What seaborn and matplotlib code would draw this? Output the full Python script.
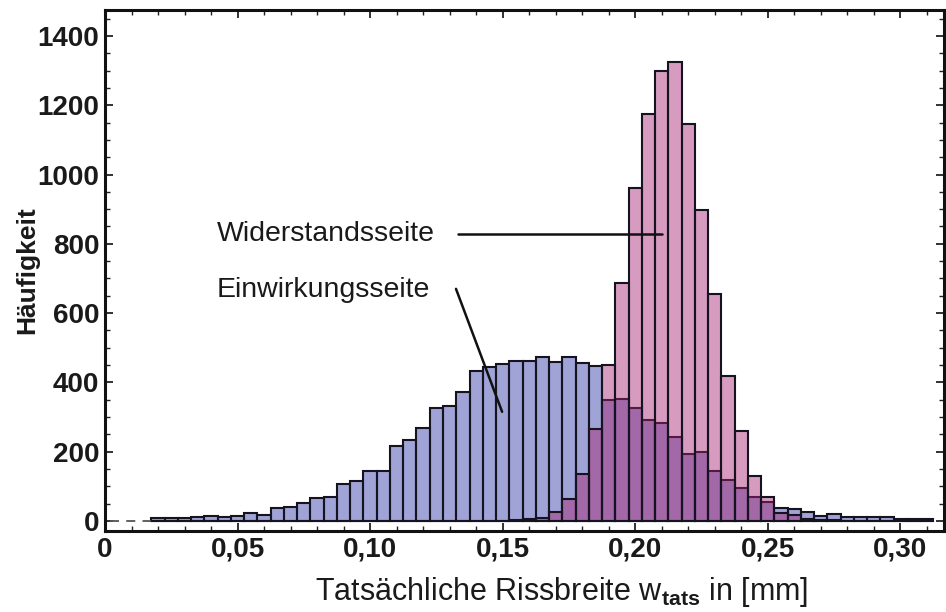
import numpy as np
import pandas as pd
import matplotlib
matplotlib.use("Agg")
import matplotlib.pyplot as plt
from matplotlib.ticker import MultipleLocator, FuncFormatter
import seaborn as sns

# Histogram bins (crack width in mm)
bin_start = 0.0175
bin_width = 0.005

# Frequencies per bin, action side (Einwirkungsseite)
einwirkung = [8, 8, 8, 11, 15, 11, 14, 24, 16, 37,
              39, 53, 66, 69, 108, 115, 145, 145, 216, 233,
              268, 326, 333, 372, 432, 445, 452, 463, 463, 473,
              460, 473, 456, 447, 348, 352, 327, 292, 284, 243,
              194, 200, 144, 118, 94, 68, 56, 38, 35, 27,
              13, 19, 10, 10, 10, 10, 5, 5, 7]

# Frequencies per bin, resistance side (Widerstandsseite)
widerstand = [0, 0, 0, 0, 0, 0, 0, 0, 0, 0,
              0, 0, 0, 0, 0, 0, 0, 0, 0, 0,
              0, 0, 0, 0, 0, 0, 0, 2, 5, 8,
              27, 64, 135, 266, 450, 688, 961, 1176, 1299, 1325,
              1147, 899, 654, 417, 261, 129, 70, 24, 17, 6,
              3, 2, 0, 0, 0, 0, 0, 0, 0]

x_ticks = [0, 0.05, 0.10, 0.15, 0.20, 0.25, 0.30]
y_ticks = [0, 200, 400, 600, 800, 1000, 1200, 1400]

n_bins = len(einwirkung)
edges = bin_start + bin_width * np.arange(n_bins + 1)
centers = edges[:-1] + bin_width / 2
df = pd.DataFrame({"w": centers, "E": einwirkung, "W": widerstand})
bin_range = (float(edges[0]), float(edges[-1]))

sns.set_theme(style="ticks")
plt.rcParams["font.family"] = ["Liberation Sans", "DejaVu Sans"]
plt.rcParams["font.weight"] = "bold"
plt.rcParams["mathtext.fontset"] = "custom"
plt.rcParams["mathtext.rm"] = "Liberation Sans"
plt.rcParams["mathtext.bf"] = "Liberation Sans:bold"
plt.rcParams["mathtext.it"] = "Liberation Sans:italic"

fig = plt.figure(figsize=(9.46, 6.12), dpi=100)
ax = fig.add_axes([0.111, 0.1324, 0.8869, 0.8513])

alpha = 0.45
edge_col = "#15131f"
blue = (44 / 255, 51 / 255, 166 / 255, alpha)
pink = (166 / 255, 33 / 255, 111 / 255, alpha)

sns.histplot(data=df, x="w", weights="E", binwidth=bin_width,
             binrange=bin_range, ax=ax,
             facecolor=blue, edgecolor=edge_col, linewidth=1.5)
sns.histplot(data=df, x="w", weights="W", binwidth=bin_width,
             binrange=bin_range, ax=ax,
             facecolor=pink, edgecolor=edge_col, linewidth=1.5)

# dashed baseline left of the first bin
ax.plot([0.002, edges[0]], [0, 0], color="#555555", lw=1.3, ls=(0, (5, 4)))

ax.set_xlim(0, 0.3165)
ax.set_ylim(-29, 1475)

ax.set_xticks(x_ticks)
ax.set_yticks(y_ticks)
ax.xaxis.set_minor_locator(MultipleLocator(0.01))
ax.yaxis.set_minor_locator(MultipleLocator(50))
ax.xaxis.set_major_formatter(FuncFormatter(
    lambda v, p: "0" if abs(v) < 1e-9 else f"{v:.2f}".replace(".", ",")))
ax.yaxis.set_major_formatter(FuncFormatter(lambda v, p: f"{int(round(v))}"))

ax.tick_params(which="both", direction="in", top=True, right=True,
               color="#222222", labelsize=20, labelcolor="#1a1a1a")
ax.tick_params(which="major", length=6, width=1.3, pad=4)
ax.tick_params(which="minor", length=3.5, width=1.0)
for s in ax.spines.values():
    s.set_linewidth(2.2)
    s.set_color("#111111")

ax.set_xlabel("")
ax.set_ylabel("")
fig.text(562 / 946, 1 - 600 / 612,
         "Tatsächliche Rissbreite w$_{\\mathbf{tats}}$ in [mm]",
         ha="center", va="baseline", fontsize=22, fontweight="normal",
         color="#1a1a1a")
fig.text(27 / 946, 1 - 270 / 612, "Häufigkeit", rotation=90,
         ha="center", va="center", fontsize=19, fontweight="bold",
         color="#1a1a1a")

# labels with leader lines
ax.text(0.0422, 828, "Widerstandsseite", ha="left", va="center",
        fontsize=20.5, fontweight="normal", color="#1a1a1a")
ax.plot([0.1332, 0.2101], [828, 828], color="#111111", lw=1.8)
ax.text(0.0422, 667, "Einwirkungsseite", ha="left", va="center",
        fontsize=20.5, fontweight="normal", color="#1a1a1a")
ax.plot([0.1324, 0.1498], [670, 315], color="#111111", lw=1.8)

fig.savefig("out.png", dpi=100)
